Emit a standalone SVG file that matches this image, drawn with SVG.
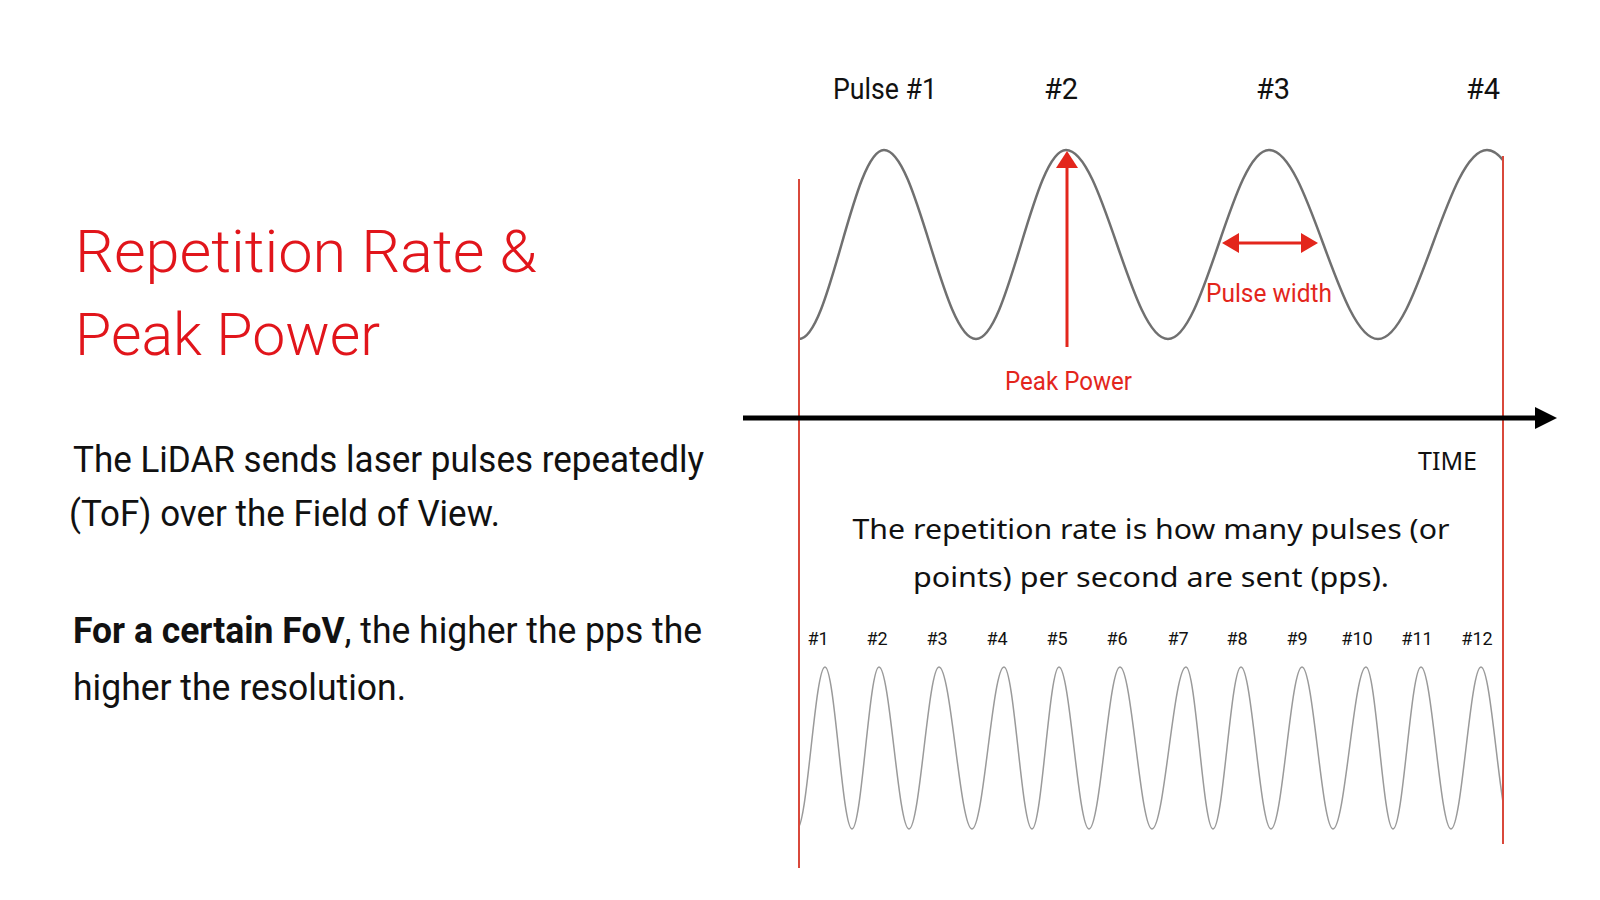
<svg xmlns="http://www.w3.org/2000/svg" width="1600" height="900" viewBox="0 0 1600 900">
<style>
.bar{font-family:Roboto,"Liberation Sans",sans-serif;}
.title{font-size:60px;fill:#e1151b;font-weight:300;}
.body{font-size:37px;fill:#111;}
.lbl{font-size:29px;fill:#111;}
.small{font-size:18px;fill:#111;text-anchor:middle;}
.red{fill:#e3261c;font-size:25px;}
.mont{font-family:"Noto Sans","Open Sans",sans-serif;fill:#111;}
.wave1{fill:none;stroke:#707070;stroke-width:2.5;}
.wave2{fill:none;stroke:#9a9a9a;stroke-width:1.5;}
.vline{stroke:#d9483b;stroke-width:2;}
.redarrow{stroke:#e3261c;stroke-width:3;}
</style>
<defs>
<clipPath id="clipW"><rect x="799" y="0" width="704" height="900"/></clipPath>
</defs>
<rect width="1600" height="900" fill="#fff"/>

<g id="title" class="bar">
<text class="title" x="75" y="272" textLength="462" lengthAdjust="spacingAndGlyphs">Repetition Rate &amp;</text>
<text class="title" x="75" y="355" textLength="305" lengthAdjust="spacingAndGlyphs">Peak Power</text>
</g>

<g id="body-text" class="bar">
<text class="body" x="73" y="472" textLength="631" lengthAdjust="spacingAndGlyphs">The LiDAR sends laser pulses repeatedly</text>
<text class="body" x="69" y="526" textLength="431" lengthAdjust="spacingAndGlyphs">(ToF) over the Field of View.</text>
<text class="body" x="73" y="643" textLength="629" lengthAdjust="spacingAndGlyphs"><tspan font-weight="bold">For a certain FoV</tspan>, the higher the pps the</text>
<text class="body" x="73" y="700" textLength="333" lengthAdjust="spacingAndGlyphs">higher the resolution.</text>
</g>

<g id="waves">
<path class="wave1" clip-path="url(#clipW)" d="M799,339 C829.9,339 853.1,150 884,150 C917.5,150 942.5,339 976,339 C1008.8,339 1033.2,150 1066,150 C1103.1,150 1130.9,339 1168,339 C1204.8,339 1232.2,150 1269,150 C1308.7,150 1338.3,339 1378,339 C1417.7,339 1447.3,150 1487,150 C1526.7,150 1556.3,339 1596,339"/>
<path class="wave2" clip-path="url(#clipW)" d="M797,829 C807.2,829 814.8,667 825,667 C834.8,667 842.2,829 852,829 C861.8,829 869.2,667 879,667 C889.9,667 898.1,829 909,829 C919.9,829 928.1,667 939,667 C951,667 960,829 972,829 C983.6,829 992.4,667 1004,667 C1014.2,667 1021.8,829 1032,829 C1041.8,829 1049.2,667 1059,667 C1069.9,667 1078.1,829 1089,829 C1100.3,829 1108.7,667 1120,667 C1131.6,667 1140.4,829 1152,829 C1164.4,829 1173.6,667 1186,667 C1195.8,667 1203.2,829 1213,829 C1223.2,829 1230.8,667 1241,667 C1251.9,667 1260.1,829 1271,829 C1282.3,829 1290.7,667 1302,667 C1313.3,667 1321.7,829 1333,829 C1345,829 1354,667 1366,667 C1375.8,667 1383.2,829 1393,829 C1403.2,829 1410.8,667 1421,667 C1431.9,667 1440.1,829 1451,829 C1461.9,829 1470.1,667 1481,667 C1491.9,667 1500.1,829 1511,829"/>
</g>

<g id="connectors">
<line class="vline" x1="799" y1="179" x2="799" y2="868"/>
<line class="vline" x1="1503" y1="156" x2="1503" y2="844"/>
<line x1="743" y1="418" x2="1540" y2="418" stroke="#000" stroke-width="5"/>
<polygon points="1535,407 1557,418 1535,429" fill="#000"/>
<line class="redarrow" x1="1067" y1="347" x2="1067" y2="166"/>
<polygon points="1067,151 1078,168 1056,168" fill="#e3261c"/>
<line class="redarrow" x1="1236" y1="243" x2="1304" y2="243"/>
<polygon points="1222,243 1239,233 1239,253" fill="#e3261c"/>
<polygon points="1318,243 1301,233 1301,253" fill="#e3261c"/>
</g>

<g id="pulse-labels" class="bar">
<text class="lbl" x="833" y="99" textLength="104" lengthAdjust="spacingAndGlyphs">Pulse #1</text>
<text class="lbl" x="1061" y="99" text-anchor="middle">#2</text>
<text class="lbl" x="1273" y="99" text-anchor="middle">#3</text>
<text class="lbl" x="1483" y="99" text-anchor="middle">#4</text>
</g>

<g id="annotations" class="bar">
<text class="red" x="1206" y="302" textLength="126" lengthAdjust="spacingAndGlyphs">Pulse width</text>
<text class="red" x="1005" y="390" textLength="127" lengthAdjust="spacingAndGlyphs">Peak Power</text>
</g>

<g id="time-label" class="mont">
<text x="1418" y="470" font-size="26" textLength="59" lengthAdjust="spacingAndGlyphs">TIME</text>
</g>

<g id="description" class="mont">
<text x="1151" y="539" font-size="28" text-anchor="middle" textLength="597" lengthAdjust="spacingAndGlyphs">The repetition rate is how many pulses (or</text>
<text x="1151" y="587" font-size="28" text-anchor="middle" textLength="476" lengthAdjust="spacingAndGlyphs">points) per second are sent (pps).</text>
</g>

<g id="small-labels" class="bar">
<text class="small" x="818" y="645">#1</text>
<text class="small" x="877" y="645">#2</text>
<text class="small" x="937" y="645">#3</text>
<text class="small" x="997" y="645">#4</text>
<text class="small" x="1057" y="645">#5</text>
<text class="small" x="1117" y="645">#6</text>
<text class="small" x="1178" y="645">#7</text>
<text class="small" x="1237" y="645">#8</text>
<text class="small" x="1297" y="645">#9</text>
<text class="small" x="1357" y="645">#10</text>
<text class="small" x="1417" y="645">#11</text>
<text class="small" x="1477" y="645">#12</text>
</g>
</svg>
